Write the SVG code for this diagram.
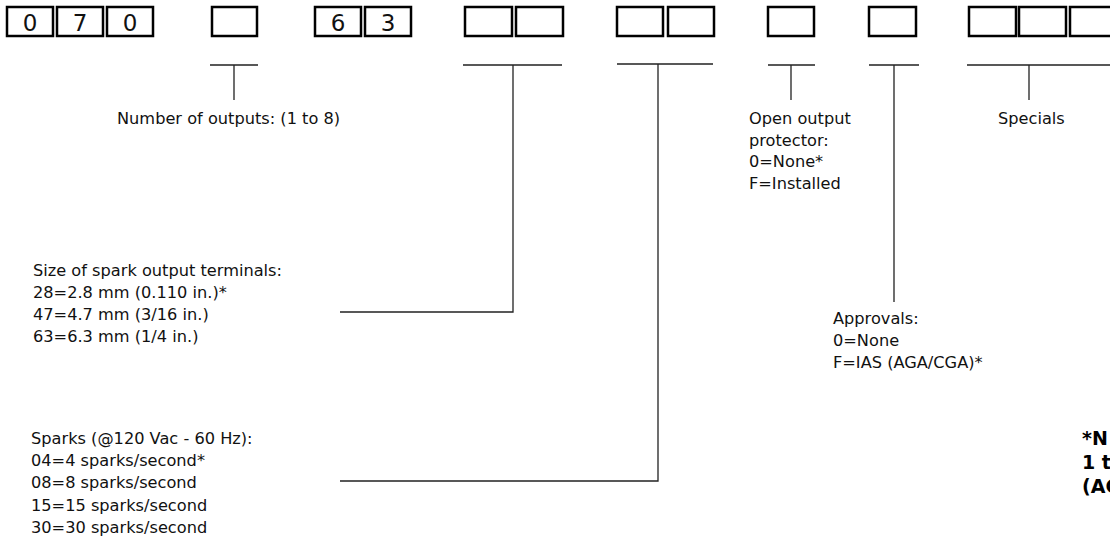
<svg xmlns="http://www.w3.org/2000/svg" width="1110" height="540" viewBox="0 0 1110 540">
<style>
.box{fill:#fff;stroke:#000;stroke-width:2.5}
.dig{font-family:"DejaVu Sans",sans-serif;font-size:23px;fill:#111;text-anchor:middle}
.lbl{font-family:"DejaVu Sans",sans-serif;font-size:16.2px;fill:#111}
.note{font-family:"DejaVu Sans",sans-serif;font-size:19px;font-weight:bold;fill:#000}
.ln{fill:none;stroke:#222;stroke-width:1.3}
</style>
<rect width="1110" height="540" fill="#fff"/>
<g id="code-boxes">
<g id="b1"><rect class="box" x="7" y="7" width="46" height="29"/><text class="dig" x="30" y="31">0</text></g>
<g id="b2"><rect class="box" x="57" y="7" width="46" height="29"/><text class="dig" x="80" y="31">7</text></g>
<g id="b3"><rect class="box" x="107" y="7" width="46" height="29"/><text class="dig" x="130" y="31">0</text></g>
<g id="b4"><rect class="box" x="212" y="7" width="45" height="29"/></g>
<g id="b5"><rect class="box" x="315" y="7" width="46" height="29"/><text class="dig" x="338" y="31">6</text></g>
<g id="b6"><rect class="box" x="365" y="7" width="46" height="29"/><text class="dig" x="388" y="31">3</text></g>
<g id="b7"><rect class="box" x="465" y="7" width="47" height="29"/></g>
<g id="b8"><rect class="box" x="516" y="7" width="47" height="29"/></g>
<g id="b9"><rect class="box" x="617" y="7" width="46" height="29"/></g>
<g id="b10"><rect class="box" x="668" y="7" width="46" height="29"/></g>
<g id="b11"><rect class="box" x="768" y="7" width="46" height="29"/></g>
<g id="b12"><rect class="box" x="869" y="7" width="47" height="29"/></g>
<g id="b13"><rect class="box" x="969" y="7" width="47" height="29"/></g>
<g id="b14"><rect class="box" x="1019" y="7" width="47" height="29"/></g>
<g id="b15"><rect class="box" x="1070" y="7" width="47" height="29"/></g>
</g>
<g id="connectors">
<path class="ln" d="M210 65H258M234 65V100"/>
<path class="ln" d="M463 65H562M513 65V312H340"/>
<path class="ln" d="M617 64H713M658 64V481H340"/>
<path class="ln" d="M768 65H815M791 65V100"/>
<path class="ln" d="M869 65H919M894 65V302"/>
<path class="ln" d="M967 65H1110M1029 65V100"/>
</g>
<g id="outputs"><text class="lbl" x="117" y="124">Number of outputs: (1 to 8)</text></g>
<g id="protector"><text class="lbl" x="749" y="124">Open output</text><text class="lbl" x="749" y="146">protector:</text><text class="lbl" x="749" y="167">0=None*</text><text class="lbl" x="749" y="189">F=Installed</text></g>
<g id="specials"><text class="lbl" x="998" y="124">Specials</text></g>
<g id="terminals"><text class="lbl" x="33" y="276">Size of spark output terminals:</text><text class="lbl" x="33" y="298">28=2.8 mm (0.110 in.)*</text><text class="lbl" x="33" y="320">47=4.7 mm (3/16 in.)</text><text class="lbl" x="33" y="342">63=6.3 mm (1/4 in.)</text></g>
<g id="approvals"><text class="lbl" x="833" y="324">Approvals:</text><text class="lbl" x="833" y="346">0=None</text><text class="lbl" x="833" y="368">F=IAS (AGA/CGA)*</text></g>
<g id="sparks"><text class="lbl" x="31" y="444">Sparks (@120 Vac - 60 Hz):</text><text class="lbl" x="31" y="466">04=4 sparks/second*</text><text class="lbl" x="31" y="488">08=8 sparks/second</text><text class="lbl" x="31" y="511">15=15 sparks/second</text><text class="lbl" x="31" y="533">30=30 sparks/second</text></g>
<g id="note"><text class="note" x="1082" y="445">*N</text><text class="note" x="1082" y="469">1 t</text><text class="note" x="1082" y="493">(AG</text></g>
</svg>
